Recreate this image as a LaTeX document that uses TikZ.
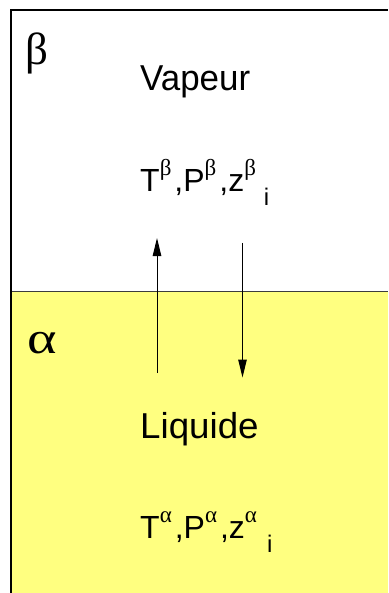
\documentclass[tikz,border=0pt]{standalone}
\usepackage{fontspec}
\setmainfont{Liberation Sans}
\newfontfamily\grkfont{Liberation Serif}
\usetikzlibrary{arrows.meta}
\definecolor{liqyellow}{RGB}{255,255,128}
\definecolor{edgegray}{RGB}{60,60,60}
\newcommand{\mysup}[1]{\raisebox{16pt}{\fontsize{23}{23}\grkfont #1}}
\newcommand{\mysub}[1]{\raisebox{-14pt}{\fontsize{24}{24}\selectfont #1}}
\begin{document}
\begin{tikzpicture}[x=1pt,y=-1pt,
  txt/.style={inner sep=0pt,anchor=base west},
  phase/.style={txt,font=\fontsize{36}{36}\selectfont},
  vars/.style={txt,font=\fontsize{32}{32}\selectfont},
  greek/.style={txt,font=\fontsize{45}{45}\grkfont},
  flux/.style={line width=1pt,-{Triangle[length=18pt,width=8.5pt]}}]
\useasboundingbox (0,0) rectangle (388,593);
\fill[white] (0,0) rectangle (388,593);
\fill[liqyellow] (10.5,291.5) rectangle (388,593);
\draw[edgegray,line width=1.2pt] (10.5,291.5) -- (388,291.5);
\draw[line width=2pt] (10.5,593) -- (10.5,10.5) -- (388,10.5);
\node[greek] (beta) at (25,65) {β};
\node[greek] (alpha) at (27,353) {\scalebox{1.25}[1]{α}};
\node[phase] (vap) at (140,91) {\scalebox{0.97}[1]{Vapeur}};
\node[vars] (vvars) at (140,192) {T\mysup{β}\hspace{3pt},P\mysup{β}\hspace{3pt},z\mysup{β}\hspace{8pt}\mysub{i}};
\node[phase] (liq) at (140,438) {\scalebox{1.02}[1]{Liquide}};
\node[vars] (lvars) at (140,538) {T\mysup{α}\hspace{3pt},P\mysup{α}\hspace{3pt},z\mysup{α}\hspace{10pt}\mysub{i}};
\coordinate (upS) at (157,373);
\coordinate (upE) at (157,238);
\coordinate (dnS) at (242.5,243);
\coordinate (dnE) at (242.5,377.5);
\draw[flux] (upS) -- (upE);
\draw[flux] (dnS) -- (dnE);
\end{tikzpicture}
\end{document}
